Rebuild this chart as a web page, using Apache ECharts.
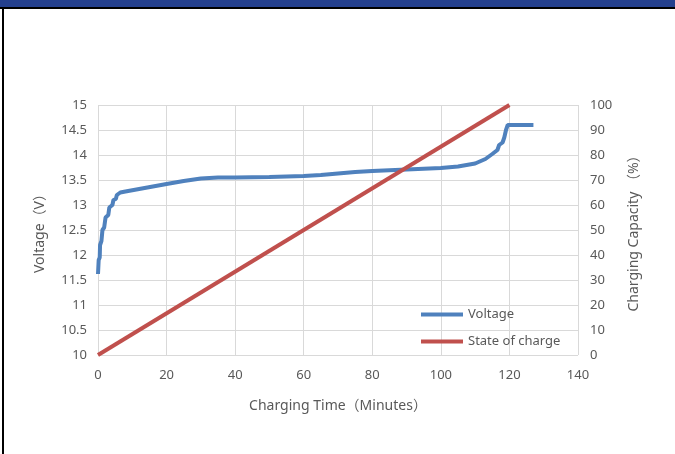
<!DOCTYPE html>
<html>
<head>
<meta charset="utf-8">
<script src="https://cdn.jsdelivr.net/npm/echarts@6/dist/echarts.min.js"></script>
<style>
html,body{margin:0;padding:0;background:#fff;}
#c{width:675px;height:454px;}
</style>
</head>
<body>
<div id="c"></div>
<script>
// Data
const voltageTime = [0, 0.2, 0.5, 0.6, 1.0, 1.3, 1.8, 2.2, 3.0, 3.3, 4.2, 4.5, 5.2, 5.5, 6.5, 8, 12, 16, 20, 25, 30, 35, 40, 50, 60, 65, 70, 75, 80, 90, 100, 105, 110, 113, 115, 116.5, 117, 118, 118.5, 119, 119.5, 127];
const voltageValues = [11.62, 11.9, 11.95, 12.2, 12.28, 12.5, 12.55, 12.75, 12.8, 12.95, 13.0, 13.1, 13.12, 13.2, 13.25, 13.27, 13.32, 13.37, 13.42, 13.48, 13.53, 13.55, 13.55, 13.56, 13.58, 13.6, 13.63, 13.66, 13.68, 13.71, 13.74, 13.77, 13.83, 13.92, 14.02, 14.1, 14.2, 14.25, 14.35, 14.5, 14.6, 14.6];
const socTime = [0, 120];
const socValues = [0, 100];
const seriesNames = ['Voltage', 'State of charge'];
const xName = 'Charging Time（Minutes）';
const yLeftName = 'Voltage（V）';
const yRightName = 'Charging Capacity （%）';

const font = '"Noto Sans", "Noto Sans CJK SC", sans-serif';
const txt = '#595959';
const grid = '#d9d9d9';

const chart = echarts.init(document.getElementById('c'), null, {renderer: 'canvas'});
chart.setOption({
  animation: false,
  textStyle: {fontFamily: font},
  graphic: [
    {type: 'rect', shape: {x: 0, y: 0, width: 675, height: 7}, style: {fill: '#24408e'}, z: 100},
    {type: 'rect', shape: {x: 0, y: 7, width: 675, height: 2}, style: {fill: '#000'}, z: 100},
    {type: 'rect', shape: {x: 2, y: 7, width: 2, height: 447}, style: {fill: '#000'}, z: 100}
  ],
  grid: {left: 98, right: 97, top: 105, bottom: 99, containLabel: false},
  legend: {
    orient: 'vertical',
    left: 416,
    top: 303,
    itemWidth: 42,
    itemHeight: 4,
    itemGap: 14,
    icon: 'rect',
    textStyle: {color: txt, fontSize: 13, fontFamily: font},
    data: seriesNames
  },
  xAxis: {
    type: 'value', min: 0, max: 140, interval: 20,
    name: xName, nameLocation: 'middle', nameGap: 44,
    nameTextStyle: {color: txt, fontSize: 14, fontFamily: font},
    axisLine: {show: false}, axisTick: {show: false},
    axisLabel: {color: txt, fontSize: 13, margin: 14, fontFamily: font},
    splitLine: {show: true, lineStyle: {color: grid, width: 1}}
  },
  yAxis: [
    {
      type: 'value', min: 10, max: 15, interval: 0.5, position: 'left',
      name: yLeftName, nameLocation: 'middle', nameGap: 51, nameRotate: 90,
      nameTextStyle: {color: txt, fontSize: 14, fontFamily: font},
      axisLine: {show: false}, axisTick: {show: false},
      axisLabel: {color: txt, fontSize: 13, margin: 11, fontFamily: font},
      splitLine: {show: true, lineStyle: {color: grid, width: 1}}
    },
    {
      type: 'value', min: 0, max: 100, interval: 10, position: 'right',
      name: yRightName, nameLocation: 'middle', nameGap: 49, nameRotate: 90,
      nameTextStyle: {color: txt, fontSize: 14, fontFamily: font},
      axisLine: {show: false}, axisTick: {show: false},
      axisLabel: {color: txt, fontSize: 13, margin: 12, fontFamily: font},
      splitLine: {show: false}
    }
  ],
  series: [
    {
      name: seriesNames[0], type: 'line', yAxisIndex: 0, showSymbol: false, symbol: 'none',
      data: voltageTime.map((t, i) => [t, voltageValues[i]]),
      lineStyle: {color: '#4f81bd', width: 4}, itemStyle: {color: '#4f81bd'}, z: 2
    },
    {
      name: seriesNames[1], type: 'line', yAxisIndex: 1, showSymbol: false, symbol: 'none',
      data: socTime.map((t, i) => [t, socValues[i]]),
      lineStyle: {color: '#c0504d', width: 4}, itemStyle: {color: '#c0504d'}, z: 3
    }
  ]
});
</script>
</body>
</html>
